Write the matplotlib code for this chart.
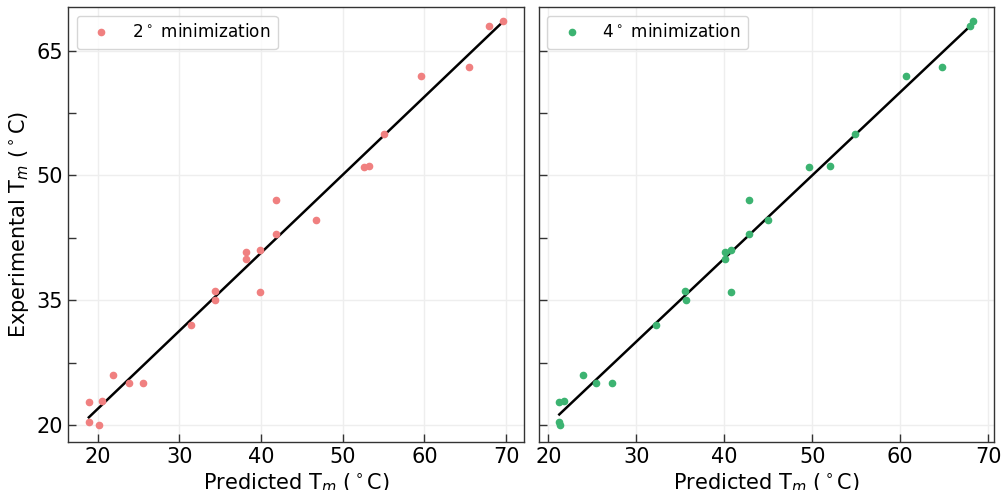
import numpy as np
import matplotlib
matplotlib.use("Agg")
import matplotlib.pyplot as plt
from matplotlib.ticker import MultipleLocator, FixedLocator


# experimental melting temperatures (same for both panels)
experimental = [68.5, 68.0, 63.0, 62.0, 55.0, 51.0, 51.1, 47.0, 44.6, 43.0, 40.8, 41.0,
                39.9, 36.1, 36.0, 35.0, 32.0, 26.0, 25.1, 25.0, 22.8, 22.9, 20.3, 20.0]

# predicted melting temperatures
predicted_2deg = [69.6, 67.9, 65.4, 59.6, 55.1, 52.6, 53.2, 41.8, 46.7, 41.8, 38.1, 39.9,
                  38.1, 34.3, 39.9, 34.3, 31.4, 21.8, 23.8, 25.5, 18.9, 20.5, 18.9, 20.2]
predicted_4deg = [68.3, 67.9, 64.8, 60.6, 54.85, 49.6, 52.0, 42.8, 45.0, 42.8, 40.1, 40.8,
                  40.1, 35.5, 40.8, 35.6, 32.2, 24.0, 25.4, 27.2, 21.25, 21.8, 21.25, 21.3]

yticks_major = [20, 35, 50, 65]
yticks_minor = [27.5, 42.5, 57.5]

panels = [
    (predicted_2deg, "lightcoral", r"2$^\circ$ minimization"),
    (predicted_4deg, "mediumseagreen", r"4$^\circ$ minimization"),
]

fig, axes = plt.subplots(1, 2, figsize=(10.02, 4.9), dpi=100, sharey=True)
plt.subplots_adjust(left=0.068, right=0.992, top=0.985, bottom=0.098, wspace=0.033)

for ax, (pred, color, label) in zip(axes, panels):
    pred = np.array(pred)
    exp = np.array(experimental)
    ax.plot(pred, exp, "o", color=color, markersize=4.5, label=label, zorder=3)

    slope, intercept = np.polyfit(pred, exp, 1)
    xs = np.sort(pred)
    ax.plot(xs, slope * xs + intercept, color="black", lw=1.8, zorder=2)

    ax.grid(True, color="#eeeeee", lw=1, zorder=0)
    ax.set_axisbelow(True)
    ax.xaxis.set_major_locator(MultipleLocator(10))
    ax.yaxis.set_major_locator(FixedLocator(yticks_major))
    ax.yaxis.set_minor_locator(FixedLocator(yticks_minor))
    ax.tick_params(which="both", direction="in", length=6, width=1, labelsize=15,
                   colors="#333333", labelcolor="black")
    for sp in ax.spines.values():
        sp.set_color("#333333")
        sp.set_linewidth(1)
    ax.set_xlabel(r"Predicted T$_m$ ($^\circ$C)", fontsize=15, labelpad=3)
    ax.legend(loc="upper left", fontsize=12.2, handletextpad=0.8,
              borderpad=0.45, edgecolor="#cccccc")

axes[0].set_ylabel(r"Experimental T$_m$ ($^\circ$C)", fontsize=15)
axes[0].set_ylim(17.95, 70.2)

plt.savefig("out.png", dpi=100)
